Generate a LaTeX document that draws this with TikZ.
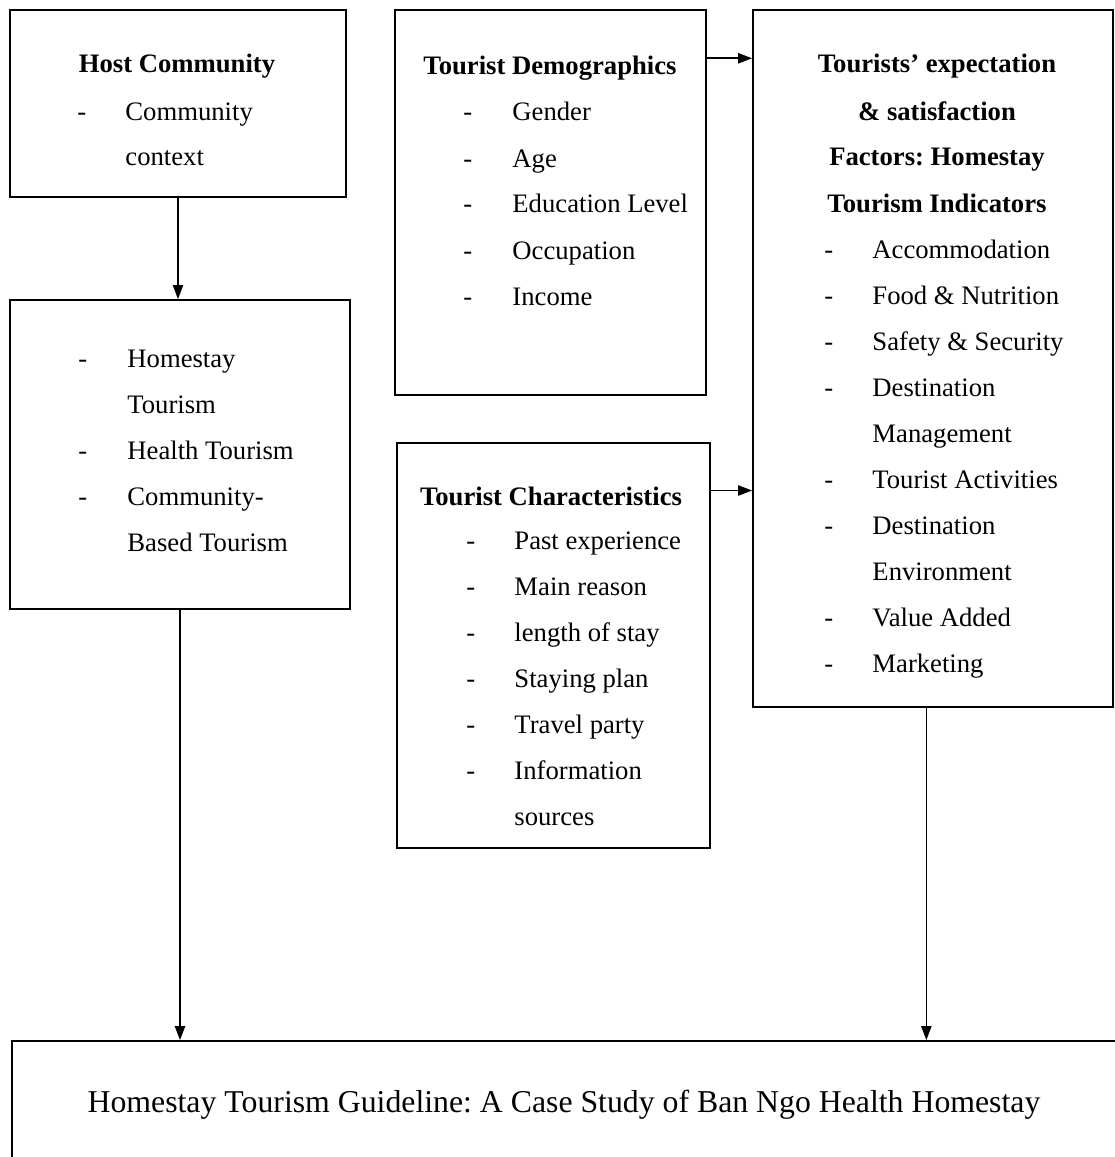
\documentclass[tikz,border=0pt]{standalone}
\usepackage{fontspec}
\setmainfont{Liberation Serif}
\usepackage{tikz}
\usetikzlibrary{fit}
\usetikzlibrary{arrows.meta}
\newcommand*{\lsp }{46}
\newcommand*{\pxu }{0.45pt}
\newcommand*{\basefont}{\fontsize{12pt}{14pt}\selectfont}
\frenchspacing
\tikzset{
    box/.style  = {draw, line width=0.8pt, inner sep=0pt},
    head/.style = {anchor=base, inner sep=0pt, font=\basefont\bfseries},
    itm/.style  = {anchor=base west, inner sep=0pt},
    arr/.style  = {line width=0.7pt, -{Triangle[length=6.3pt, width=4.6pt]}}
}

\begin{document}
\begin{tikzpicture}[x=\pxu, y=-\pxu, font=\basefont]
    \useasboundingbox (0,0) rectangle (1115,1157);
        % boxes
        \node [box, fit={(10,10) (346,197)}]    (host)   {};
        \node [box, fit={(10,300) (350,609)}]   (kinds)  {};
        \node [box, fit={(395,10) (706,395)}]   (demo)   {};
        \node [box, fit={(397,443) (710,848)}]  (chars)  {};
        \node [box, fit={(753,10) (1113,707)}]  (expect) {};
        \node [box, fit={(12,1041) (1125,1190)}] (guide) {};
        % host community
        \node [head] (hosthead) at (177,73) {Host Community};
        \node [itm] (hostd1) at (77,120)  {-};
        \node [itm] (host1)  at (125,120) {Community};
        \node [itm] (host2)  at (125,165) {context};
        % kinds of tourism
        \node [itm] (kindsd1) at (78,367)  {-};
        \node [itm] (kinds1)  at (127,367) {Homestay};
        \node [itm] (kinds2)  at (127,413) {Tourism};
        \node [itm] (kindsd2) at (78,459)  {-};
        \node [itm] (kinds3)  at (127,459) {Health Tourism};
        \node [itm] (kindsd3) at (78,505)  {-};
        \node [itm] (kinds4)  at (127,505) {Community-};
        \node [itm] (kinds5)  at (127,551) {Based Tourism};
        % demographics
        \node [head] (demohead) at (550,75) {Tourist Demographics};
        \node [itm] (demod1) at (463,121)         {-};
        \node [itm] (demo1)  at (512,121)         {Gender};
        \node [itm] (demod2) at (463,121+\lsp)    {-};
        \node [itm] (demo2)  at (512,121+\lsp)    {Age};
        \node [itm] (demod3) at (463,121+2*\lsp)  {-};
        \node [itm] (demo3)  at (512,121+2*\lsp)  {Education Level};
        \node [itm] (demod4) at (463,121+3*\lsp)  {-};
        \node [itm] (demo4)  at (512,121+3*\lsp)  {Occupation};
        \node [itm] (demod5) at (463,121+4*\lsp)  {-};
        \node [itm] (demo5)  at (512,121+4*\lsp)  {Income};
        % characteristics
        \node [head] (charshead) at (551,505) {Tourist Characteristics};
        \node [itm] (charsd1) at (466,549)         {-};
        \node [itm] (chars1)  at (514,549)         {Past experience};
        \node [itm] (charsd2) at (466,549+\lsp)    {-};
        \node [itm] (chars2)  at (514,549+\lsp)    {Main reason};
        \node [itm] (charsd3) at (466,549+2*\lsp)  {-};
        \node [itm] (chars3)  at (514,549+2*\lsp)  {length of stay};
        \node [itm] (charsd4) at (466,549+3*\lsp)  {-};
        \node [itm] (chars4)  at (514,549+3*\lsp)  {Staying plan};
        \node [itm] (charsd5) at (466,549+4*\lsp)  {-};
        \node [itm] (chars5)  at (514,549+4*\lsp)  {Travel party};
        \node [itm] (charsd6) at (466,549+5*\lsp)  {-};
        \node [itm] (chars6)  at (514,549+5*\lsp)  {Information};
        \node [itm] (chars7)  at (514,549+6*\lsp)  {sources};
        % expectation & satisfaction
        \node [head] (exphead1) at (937,73)  {Tourists’ expectation};
        \node [head] (exphead2) at (937,120) {\& satisfaction};
        \node [head] (exphead3) at (937,166) {Factors: Homestay};
        \node [head] (exphead4) at (937,212) {Tourism Indicators};
        \node [itm] (expd1) at (824,258)          {-};
        \node [itm] (exp1)  at (872,258)          {Accommodation};
        \node [itm] (expd2) at (824,258+\lsp)     {-};
        \node [itm] (exp2)  at (872,258+\lsp)     {Food \& Nutrition};
        \node [itm] (expd3) at (824,258+2*\lsp)   {-};
        \node [itm] (exp3)  at (872,258+2*\lsp)   {Safety \& Security};
        \node [itm] (expd4) at (824,258+3*\lsp)   {-};
        \node [itm] (exp4)  at (872,258+3*\lsp)   {Destination};
        \node [itm] (exp5)  at (872,258+4*\lsp)   {Management};
        \node [itm] (expd6) at (824,258+5*\lsp)   {-};
        \node [itm] (exp6)  at (872,258+5*\lsp)   {Tourist Activities};
        \node [itm] (expd7) at (824,258+6*\lsp)   {-};
        \node [itm] (exp7)  at (872,258+6*\lsp)   {Destination};
        \node [itm] (exp8)  at (872,258+7*\lsp)   {Environment};
        \node [itm] (expd9) at (824,258+8*\lsp)   {-};
        \node [itm] (exp9)  at (872,258+8*\lsp)   {Value Added};
        \node [itm] (expd10) at (824,258+9*\lsp)  {-};
        \node [itm] (exp10)  at (872,258+9*\lsp)  {Marketing};
        % guideline
        \node [anchor=base, inner sep=0pt, font=\fontsize{14.3pt}{17pt}\selectfont] (guidetext) at (564,1112) {Homestay Tourism Guideline: A Case Study of Ban Ngo Health Homestay};
        % arrows
        \draw [arr] (host.south) -- (host.south |- kinds.north);
        \draw [arr] (kinds.south) -- (kinds.south |- guide.north);
        \draw [arr] ([xshift=-3pt]expect.south) -- ([xshift=-3pt]expect.south |- guide.north);
        \draw [arr] ([yshift=-1pt]demo.east |- demohead.north) -- ([yshift=-1pt]expect.west |- demohead.north);
        \draw [arr] ([yshift=-2pt]chars.east |- charshead.north) -- ([yshift=-2pt]expect.west |- charshead.north);
    \end{tikzpicture}
\end{document}
